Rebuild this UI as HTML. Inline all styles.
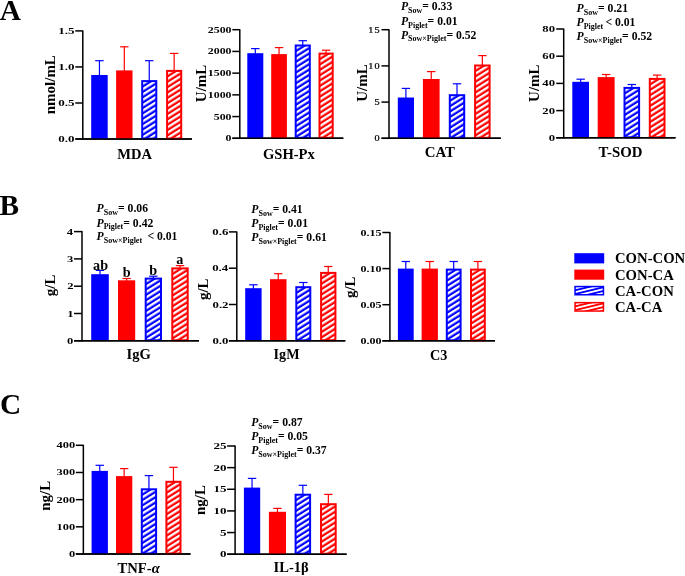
<!DOCTYPE html>
<html><head><meta charset="utf-8"><title>Figure</title>
<style>html,body{margin:0;padding:0;background:#fff;}body{width:685px;height:576px;overflow:hidden;font-family:"Liberation Serif",serif;}svg{display:block;will-change:transform;}</style>
</head><body>
<svg width="685" height="576" viewBox="0 0 685 576" font-family='"Liberation Serif", serif' fill="#000">
<defs>
<pattern id="hp1" patternUnits="userSpaceOnUse" x="4.459" y="0" width="4.55" height="10" patternTransform="rotate(58)"><rect width="4.55" height="10" fill="#0000ff"/><rect width="2.3" height="10" fill="#fff"/></pattern>
<pattern id="hp2" patternUnits="userSpaceOnUse" x="4.454" y="0" width="4.55" height="10" patternTransform="rotate(58)"><rect width="4.55" height="10" fill="#ff0000"/><rect width="2.3" height="10" fill="#fff"/></pattern>
<pattern id="hp3" patternUnits="userSpaceOnUse" x="1.011" y="0" width="4.55" height="10" patternTransform="rotate(58)"><rect width="4.55" height="10" fill="#0000ff"/><rect width="2.3" height="10" fill="#fff"/></pattern>
<pattern id="hp4" patternUnits="userSpaceOnUse" x="2.293" y="0" width="4.55" height="10" patternTransform="rotate(58)"><rect width="4.55" height="10" fill="#ff0000"/><rect width="2.3" height="10" fill="#fff"/></pattern>
<pattern id="hp5" patternUnits="userSpaceOnUse" x="1.970" y="0" width="4.55" height="10" patternTransform="rotate(58)"><rect width="4.55" height="10" fill="#0000ff"/><rect width="2.3" height="10" fill="#fff"/></pattern>
<pattern id="hp6" patternUnits="userSpaceOnUse" x="3.840" y="0" width="4.55" height="10" patternTransform="rotate(58)"><rect width="4.55" height="10" fill="#ff0000"/><rect width="2.3" height="10" fill="#fff"/></pattern>
<pattern id="hp7" patternUnits="userSpaceOnUse" x="1.906" y="0" width="4.55" height="10" patternTransform="rotate(58)"><rect width="4.55" height="10" fill="#0000ff"/><rect width="2.3" height="10" fill="#fff"/></pattern>
<pattern id="hp8" patternUnits="userSpaceOnUse" x="3.131" y="0" width="4.55" height="10" patternTransform="rotate(58)"><rect width="4.55" height="10" fill="#ff0000"/><rect width="2.3" height="10" fill="#fff"/></pattern>
<pattern id="hp9" patternUnits="userSpaceOnUse" x="0.903" y="0" width="4.55" height="10" patternTransform="rotate(58)"><rect width="4.55" height="10" fill="#0000ff"/><rect width="2.3" height="10" fill="#fff"/></pattern>
<pattern id="hp10" patternUnits="userSpaceOnUse" x="1.799" y="0" width="4.55" height="10" patternTransform="rotate(58)"><rect width="4.55" height="10" fill="#ff0000"/><rect width="2.3" height="10" fill="#fff"/></pattern>
<pattern id="hp11" patternUnits="userSpaceOnUse" x="1.552" y="0" width="4.55" height="10" patternTransform="rotate(58)"><rect width="4.55" height="10" fill="#0000ff"/><rect width="2.3" height="10" fill="#fff"/></pattern>
<pattern id="hp12" patternUnits="userSpaceOnUse" x="2.567" y="0" width="4.55" height="10" patternTransform="rotate(58)"><rect width="4.55" height="10" fill="#ff0000"/><rect width="2.3" height="10" fill="#fff"/></pattern>
<pattern id="hp13" patternUnits="userSpaceOnUse" x="2.680" y="0" width="4.55" height="10" patternTransform="rotate(58)"><rect width="4.55" height="10" fill="#0000ff"/><rect width="2.3" height="10" fill="#fff"/></pattern>
<pattern id="hp14" patternUnits="userSpaceOnUse" x="1.854" y="0" width="4.55" height="10" patternTransform="rotate(58)"><rect width="4.55" height="10" fill="#ff0000"/><rect width="2.3" height="10" fill="#fff"/></pattern>
<pattern id="hp15" patternUnits="userSpaceOnUse" x="0.070" y="0" width="4.55" height="10" patternTransform="rotate(58)"><rect width="4.55" height="10" fill="#0000ff"/><rect width="2.3" height="10" fill="#fff"/></pattern>
<pattern id="hp16" patternUnits="userSpaceOnUse" x="2.196" y="0" width="4.55" height="10" patternTransform="rotate(58)"><rect width="4.55" height="10" fill="#ff0000"/><rect width="2.3" height="10" fill="#fff"/></pattern>
<pattern id="hp17" patternUnits="userSpaceOnUse" x="4.251" y="0" width="4.55" height="10" patternTransform="rotate(58)"><rect width="4.55" height="10" fill="#0000ff"/><rect width="2.3" height="10" fill="#fff"/></pattern>
<pattern id="hp18" patternUnits="userSpaceOnUse" x="3.018" y="0" width="4.55" height="10" patternTransform="rotate(58)"><rect width="4.55" height="10" fill="#ff0000"/><rect width="2.3" height="10" fill="#fff"/></pattern>
<pattern id="lphb" patternUnits="userSpaceOnUse" x="0" y="1.330" width="10" height="3.65" patternTransform="rotate(-13.5)"><rect width="10" height="3.65" fill="#0000ff"/><rect width="10" height="1.8" fill="#fff"/></pattern>
<pattern id="lphr" patternUnits="userSpaceOnUse" x="0" y="2.385" width="10" height="3.65" patternTransform="rotate(-13.5)"><rect width="10" height="3.65" fill="#ff0000"/><rect width="10" height="1.8" fill="#fff"/></pattern>
</defs>
<line x1="82.8" y1="30.4" x2="82.8" y2="139.85" stroke="#000" stroke-width="1.5"/>
<line x1="75.3" y1="139.1" x2="191.9" y2="139.1" stroke="#000" stroke-width="1.5"/>
<line x1="75.3" y1="139.05" x2="82.8" y2="139.05" stroke="#000" stroke-width="1.5"/>
<text transform="translate(58.17,142.05) scale(1.536,1)" font-size="8.5" font-weight="bold">0.0</text>
<line x1="75.3" y1="103.0" x2="82.8" y2="103.0" stroke="#000" stroke-width="1.5"/>
<text transform="translate(58.15,106.00) scale(1.536,1)" font-size="8.5" font-weight="bold">0.5</text>
<line x1="75.3" y1="66.95" x2="82.8" y2="66.95" stroke="#000" stroke-width="1.5"/>
<text transform="translate(58.17,69.95) scale(1.536,1)" font-size="8.5" font-weight="bold">1.0</text>
<line x1="75.3" y1="30.9" x2="82.8" y2="30.9" stroke="#000" stroke-width="1.5"/>
<text transform="translate(58.15,33.90) scale(1.536,1)" font-size="8.5" font-weight="bold">1.5</text>
<line x1="99.45" y1="60.70" x2="99.45" y2="76.00" stroke="#0000ff" stroke-width="1.2"/>
<line x1="95.25" y1="60.70" x2="103.65" y2="60.70" stroke="#0000ff" stroke-width="1.2"/>
<rect x="91.20" y="75.00" width="16.50" height="64.10" fill="#0000ff"/>
<line x1="124.30" y1="46.80" x2="124.30" y2="71.40" stroke="#ff0000" stroke-width="1.2"/>
<line x1="120.10" y1="46.80" x2="128.50" y2="46.80" stroke="#ff0000" stroke-width="1.2"/>
<rect x="116.10" y="70.40" width="16.40" height="68.70" fill="#ff0000"/>
<line x1="149.25" y1="60.70" x2="149.25" y2="81.10" stroke="#0000ff" stroke-width="1.2"/>
<line x1="145.05" y1="60.70" x2="153.45" y2="60.70" stroke="#0000ff" stroke-width="1.2"/>
<rect x="142.20" y="81.10" width="14.10" height="57.50" fill="url(#hp1)" stroke="#0000ff" stroke-width="2.0"/>
<line x1="174.15" y1="53.40" x2="174.15" y2="70.90" stroke="#ff0000" stroke-width="1.2"/>
<line x1="169.95" y1="53.40" x2="178.35" y2="53.40" stroke="#ff0000" stroke-width="1.2"/>
<rect x="167.10" y="70.90" width="14.10" height="67.70" fill="url(#hp2)" stroke="#ff0000" stroke-width="2.0"/>
<line x1="82.8" y1="139.1" x2="191.9" y2="139.1" stroke="#000" stroke-width="1.5"/>
<text x="117.2" y="158.9" font-size="14.5" font-weight="bold" textLength="34.7" lengthAdjust="spacingAndGlyphs">MDA</text>
<text transform="translate(54.9,84.7) rotate(-90)" text-anchor="middle" font-size="15" font-weight="bold">nmol/mL</text>
<line x1="239.8" y1="29.2" x2="239.8" y2="139.05" stroke="#000" stroke-width="1.5"/>
<line x1="232.3" y1="138.3" x2="343.3" y2="138.3" stroke="#000" stroke-width="1.5"/>
<line x1="232.3" y1="138.3" x2="239.8" y2="138.3" stroke="#000" stroke-width="1.5"/>
<text transform="translate(225.61,141.30) scale(1.397,1)" font-size="8.5" font-weight="bold">0</text>
<line x1="232.3" y1="116.58" x2="239.8" y2="116.58" stroke="#000" stroke-width="1.5"/>
<text transform="translate(213.74,119.58) scale(1.397,1)" font-size="8.5" font-weight="bold">500</text>
<line x1="232.3" y1="94.86" x2="239.8" y2="94.86" stroke="#000" stroke-width="1.5"/>
<text transform="translate(207.80,97.86) scale(1.397,1)" font-size="8.5" font-weight="bold">1000</text>
<line x1="232.3" y1="73.14" x2="239.8" y2="73.14" stroke="#000" stroke-width="1.5"/>
<text transform="translate(207.80,76.14) scale(1.397,1)" font-size="8.5" font-weight="bold">1500</text>
<line x1="232.3" y1="51.42" x2="239.8" y2="51.42" stroke="#000" stroke-width="1.5"/>
<text transform="translate(207.80,54.42) scale(1.397,1)" font-size="8.5" font-weight="bold">2000</text>
<line x1="232.3" y1="29.7" x2="239.8" y2="29.7" stroke="#000" stroke-width="1.5"/>
<text transform="translate(207.80,32.70) scale(1.397,1)" font-size="8.5" font-weight="bold">2500</text>
<line x1="255.30" y1="48.60" x2="255.30" y2="54.20" stroke="#0000ff" stroke-width="1.2"/>
<line x1="251.10" y1="48.60" x2="259.50" y2="48.60" stroke="#0000ff" stroke-width="1.2"/>
<rect x="247.30" y="53.20" width="16.00" height="85.10" fill="#0000ff"/>
<line x1="279.05" y1="47.60" x2="279.05" y2="55.10" stroke="#ff0000" stroke-width="1.2"/>
<line x1="274.85" y1="47.60" x2="283.25" y2="47.60" stroke="#ff0000" stroke-width="1.2"/>
<rect x="271.20" y="54.10" width="15.70" height="84.20" fill="#ff0000"/>
<line x1="302.75" y1="40.70" x2="302.75" y2="45.50" stroke="#0000ff" stroke-width="1.2"/>
<line x1="298.55" y1="40.70" x2="306.95" y2="40.70" stroke="#0000ff" stroke-width="1.2"/>
<rect x="295.70" y="45.50" width="14.10" height="92.30" fill="url(#hp3)" stroke="#0000ff" stroke-width="2.0"/>
<line x1="326.10" y1="50.20" x2="326.10" y2="53.60" stroke="#ff0000" stroke-width="1.2"/>
<line x1="321.90" y1="50.20" x2="330.30" y2="50.20" stroke="#ff0000" stroke-width="1.2"/>
<rect x="319.50" y="53.60" width="13.20" height="84.20" fill="url(#hp4)" stroke="#ff0000" stroke-width="2.0"/>
<line x1="239.8" y1="138.3" x2="343.3" y2="138.3" stroke="#000" stroke-width="1.5"/>
<text x="263.0" y="159.1" font-size="14.5" font-weight="bold" textLength="51.8" lengthAdjust="spacingAndGlyphs">GSH-Px</text>
<text transform="translate(206.0,83.4) rotate(-90)" text-anchor="middle" font-size="15" font-weight="bold">U/mL</text>
<line x1="389.0" y1="29.2" x2="389.0" y2="139.05" stroke="#000" stroke-width="1.5"/>
<line x1="381.5" y1="138.3" x2="500.8" y2="138.3" stroke="#000" stroke-width="1.5"/>
<line x1="381.5" y1="138.3" x2="389.0" y2="138.3" stroke="#000" stroke-width="1.5"/>
<text transform="translate(374.39,141.30) scale(1.200,1)" font-size="8.5" font-weight="normal" letter-spacing="0.9" stroke="#000" stroke-width="0.25">0</text>
<line x1="381.5" y1="102.1" x2="389.0" y2="102.1" stroke="#000" stroke-width="1.5"/>
<text transform="translate(374.40,105.10) scale(1.200,1)" font-size="8.5" font-weight="normal" letter-spacing="0.9" stroke="#000" stroke-width="0.25">5</text>
<line x1="381.5" y1="65.9" x2="389.0" y2="65.9" stroke="#000" stroke-width="1.5"/>
<text transform="translate(368.21,68.90) scale(1.200,1)" font-size="8.5" font-weight="normal" letter-spacing="0.9" stroke="#000" stroke-width="0.25">10</text>
<line x1="381.5" y1="29.7" x2="389.0" y2="29.7" stroke="#000" stroke-width="1.5"/>
<text transform="translate(368.22,32.70) scale(1.200,1)" font-size="8.5" font-weight="normal" letter-spacing="0.9" stroke="#000" stroke-width="0.25">15</text>
<line x1="405.90" y1="88.40" x2="405.90" y2="98.50" stroke="#0000ff" stroke-width="1.2"/>
<line x1="401.70" y1="88.40" x2="410.10" y2="88.40" stroke="#0000ff" stroke-width="1.2"/>
<rect x="397.80" y="97.50" width="16.20" height="40.80" fill="#0000ff"/>
<line x1="431.25" y1="71.60" x2="431.25" y2="80.00" stroke="#ff0000" stroke-width="1.2"/>
<line x1="427.05" y1="71.60" x2="435.45" y2="71.60" stroke="#ff0000" stroke-width="1.2"/>
<rect x="422.90" y="79.00" width="16.70" height="59.30" fill="#ff0000"/>
<line x1="457.00" y1="83.80" x2="457.00" y2="95.20" stroke="#0000ff" stroke-width="1.2"/>
<line x1="452.80" y1="83.80" x2="461.20" y2="83.80" stroke="#0000ff" stroke-width="1.2"/>
<rect x="449.80" y="95.20" width="14.40" height="42.60" fill="url(#hp5)" stroke="#0000ff" stroke-width="2.0"/>
<line x1="482.35" y1="55.60" x2="482.35" y2="65.50" stroke="#ff0000" stroke-width="1.2"/>
<line x1="478.15" y1="55.60" x2="486.55" y2="55.60" stroke="#ff0000" stroke-width="1.2"/>
<rect x="475.10" y="65.50" width="14.50" height="72.30" fill="url(#hp6)" stroke="#ff0000" stroke-width="2.0"/>
<line x1="389.0" y1="138.3" x2="500.8" y2="138.3" stroke="#000" stroke-width="1.5"/>
<text x="424.8" y="157.4" font-size="14.5" font-weight="bold" textLength="30.2" lengthAdjust="spacingAndGlyphs">CAT</text>
<text transform="translate(366.5,83.1) rotate(-90)" text-anchor="middle" font-size="15" font-weight="bold">U/mL</text>
<text x="400.9" y="10.40" font-size="11.7" font-weight="bold"><tspan font-style="italic">P</tspan><tspan font-style="normal" font-size="8.0" dy="2.7">Sow</tspan><tspan font-style="normal" dy="-2.7" dx="0">= 0.33</tspan></text>
<text x="400.9" y="24.90" font-size="11.7" font-weight="bold"><tspan font-style="italic">P</tspan><tspan font-style="normal" font-size="8.0" dy="2.7">Piglet</tspan><tspan font-style="normal" dy="-2.7" dx="0">= 0.01</tspan></text>
<text x="400.9" y="38.60" font-size="11.7" font-weight="bold"><tspan font-style="italic">P</tspan><tspan font-style="normal" font-size="8.0" dy="2.7">Sow×Piglet</tspan><tspan font-style="normal" dy="-2.7" dx="0">= 0.52</tspan></text>
<line x1="563.7" y1="28.5" x2="563.7" y2="138.55" stroke="#000" stroke-width="1.5"/>
<line x1="556.2" y1="137.8" x2="675.5" y2="137.8" stroke="#000" stroke-width="1.5"/>
<line x1="556.2" y1="137.8" x2="563.7" y2="137.8" stroke="#000" stroke-width="1.5"/>
<text transform="translate(548.63,140.80) scale(1.495,1)" font-size="8.5" font-weight="bold">0</text>
<line x1="556.2" y1="110.6" x2="563.7" y2="110.6" stroke="#000" stroke-width="1.5"/>
<text transform="translate(542.28,113.60) scale(1.495,1)" font-size="8.5" font-weight="bold">20</text>
<line x1="556.2" y1="83.4" x2="563.7" y2="83.4" stroke="#000" stroke-width="1.5"/>
<text transform="translate(542.28,86.40) scale(1.495,1)" font-size="8.5" font-weight="bold">40</text>
<line x1="556.2" y1="56.2" x2="563.7" y2="56.2" stroke="#000" stroke-width="1.5"/>
<text transform="translate(542.28,59.20) scale(1.495,1)" font-size="8.5" font-weight="bold">60</text>
<line x1="556.2" y1="29.0" x2="563.7" y2="29.0" stroke="#000" stroke-width="1.5"/>
<text transform="translate(542.28,32.00) scale(1.495,1)" font-size="8.5" font-weight="bold">80</text>
<line x1="580.65" y1="79.20" x2="580.65" y2="82.80" stroke="#0000ff" stroke-width="1.2"/>
<line x1="576.45" y1="79.20" x2="584.85" y2="79.20" stroke="#0000ff" stroke-width="1.2"/>
<rect x="572.30" y="81.80" width="16.70" height="56.00" fill="#0000ff"/>
<line x1="606.15" y1="74.50" x2="606.15" y2="78.10" stroke="#ff0000" stroke-width="1.2"/>
<line x1="601.95" y1="74.50" x2="610.35" y2="74.50" stroke="#ff0000" stroke-width="1.2"/>
<rect x="597.70" y="77.10" width="16.90" height="60.70" fill="#ff0000"/>
<line x1="631.80" y1="84.50" x2="631.80" y2="87.90" stroke="#0000ff" stroke-width="1.2"/>
<line x1="627.60" y1="84.50" x2="636.00" y2="84.50" stroke="#0000ff" stroke-width="1.2"/>
<rect x="624.50" y="87.90" width="14.60" height="49.40" fill="url(#hp7)" stroke="#0000ff" stroke-width="2.0"/>
<line x1="657.15" y1="75.10" x2="657.15" y2="78.90" stroke="#ff0000" stroke-width="1.2"/>
<line x1="652.95" y1="75.10" x2="661.35" y2="75.10" stroke="#ff0000" stroke-width="1.2"/>
<rect x="649.80" y="78.90" width="14.70" height="58.40" fill="url(#hp8)" stroke="#ff0000" stroke-width="2.0"/>
<line x1="563.7" y1="137.8" x2="675.5" y2="137.8" stroke="#000" stroke-width="1.5"/>
<text x="598.6" y="157.2" font-size="14.5" font-weight="bold" textLength="43.9" lengthAdjust="spacingAndGlyphs">T-SOD</text>
<text transform="translate(539.0,83.2) rotate(-90)" text-anchor="middle" font-size="15" font-weight="bold">U/mL</text>
<text x="576.6" y="12.20" font-size="11.7" font-weight="bold"><tspan font-style="italic">P</tspan><tspan font-style="normal" font-size="8.0" dy="2.7">Sow</tspan><tspan font-style="normal" dy="-2.7" dx="0">= 0.21</tspan></text>
<text x="576.6" y="26.40" font-size="11.7" font-weight="bold"><tspan font-style="italic">P</tspan><tspan font-style="normal" font-size="8.0" dy="2.7">Piglet</tspan><tspan font-style="normal" dy="-2.7" dx="-0.8"> < 0.01</tspan></text>
<text x="576.6" y="40.20" font-size="11.7" font-weight="bold"><tspan font-style="italic">P</tspan><tspan font-style="normal" font-size="8.0" dy="2.7">Sow×Piglet</tspan><tspan font-style="normal" dy="-2.7" dx="0">= 0.52</tspan></text>
<line x1="82.0" y1="231.1" x2="82.0" y2="341.55" stroke="#000" stroke-width="1.5"/>
<line x1="74.0" y1="340.8" x2="199.0" y2="340.8" stroke="#000" stroke-width="1.5"/>
<line x1="74.0" y1="340.8" x2="82.0" y2="340.8" stroke="#000" stroke-width="1.5"/>
<text transform="translate(67.07,343.80) scale(1.484,1)" font-size="8.5" font-weight="bold">0</text>
<line x1="74.0" y1="313.5" x2="82.0" y2="313.5" stroke="#000" stroke-width="1.5"/>
<text transform="translate(67.25,316.50) scale(1.484,1)" font-size="8.5" font-weight="bold">1</text>
<line x1="74.0" y1="286.2" x2="82.0" y2="286.2" stroke="#000" stroke-width="1.5"/>
<text transform="translate(67.14,289.20) scale(1.484,1)" font-size="8.5" font-weight="bold">2</text>
<line x1="74.0" y1="258.9" x2="82.0" y2="258.9" stroke="#000" stroke-width="1.5"/>
<text transform="translate(67.02,261.90) scale(1.484,1)" font-size="8.5" font-weight="bold">3</text>
<line x1="74.0" y1="231.6" x2="82.0" y2="231.6" stroke="#000" stroke-width="1.5"/>
<text transform="translate(66.83,234.60) scale(1.484,1)" font-size="8.5" font-weight="bold">4</text>
<line x1="100.00" y1="270.40" x2="100.00" y2="275.20" stroke="#0000ff" stroke-width="1.2"/>
<line x1="95.80" y1="270.40" x2="104.20" y2="270.40" stroke="#0000ff" stroke-width="1.2"/>
<rect x="91.20" y="274.20" width="17.60" height="66.60" fill="#0000ff"/>
<line x1="126.60" y1="278.50" x2="126.60" y2="281.30" stroke="#ff0000" stroke-width="1.2"/>
<line x1="122.40" y1="278.50" x2="130.80" y2="278.50" stroke="#ff0000" stroke-width="1.2"/>
<rect x="118.00" y="280.30" width="17.20" height="60.50" fill="#ff0000"/>
<line x1="153.35" y1="276.20" x2="153.35" y2="278.60" stroke="#0000ff" stroke-width="1.2"/>
<line x1="149.15" y1="276.20" x2="157.55" y2="276.20" stroke="#0000ff" stroke-width="1.2"/>
<rect x="145.70" y="278.60" width="15.30" height="61.70" fill="url(#hp9)" stroke="#0000ff" stroke-width="2.0"/>
<line x1="180.00" y1="265.60" x2="180.00" y2="268.40" stroke="#ff0000" stroke-width="1.2"/>
<line x1="175.80" y1="265.60" x2="184.20" y2="265.60" stroke="#ff0000" stroke-width="1.2"/>
<rect x="172.30" y="268.40" width="15.40" height="71.90" fill="url(#hp10)" stroke="#ff0000" stroke-width="2.0"/>
<line x1="82.0" y1="340.8" x2="199.0" y2="340.8" stroke="#000" stroke-width="1.5"/>
<text x="126.6" y="358.6" font-size="14.5" font-weight="bold" textLength="24.3" lengthAdjust="spacingAndGlyphs">IgG</text>
<text transform="translate(55.3,285.3) rotate(-90)" text-anchor="middle" font-size="15" font-weight="bold">g/L</text>
<text x="96.6" y="212.20" font-size="11.7" font-weight="bold"><tspan font-style="italic">P</tspan><tspan font-style="normal" font-size="8.0" dy="2.7">Sow</tspan><tspan font-style="normal" dy="-2.7" dx="0">= 0.06</tspan></text>
<text x="96.6" y="226.60" font-size="11.7" font-weight="bold"><tspan font-style="italic">P</tspan><tspan font-style="normal" font-size="8.0" dy="2.7">Piglet</tspan><tspan font-style="normal" dy="-2.7" dx="0">= 0.42</tspan></text>
<text x="96.6" y="240.40" font-size="11.7" font-weight="bold"><tspan font-style="italic">P</tspan><tspan font-style="normal" font-size="8.0" dy="2.7">Sow×Piglet</tspan><tspan font-style="normal" dy="-2.7" dx="2.4"> < 0.01</tspan></text>
<text x="100.6" y="269.50" text-anchor="middle" font-size="14.2" font-weight="bold">ab</text>
<text x="126.6" y="276.70" text-anchor="middle" font-size="14.2" font-weight="bold">b</text>
<text x="153.2" y="274.50" text-anchor="middle" font-size="14.2" font-weight="bold">b</text>
<text x="179.7" y="264.30" text-anchor="middle" font-size="14.2" font-weight="bold">a</text>
<line x1="236.8" y1="231.4" x2="236.8" y2="341.55" stroke="#000" stroke-width="1.5"/>
<line x1="228.9" y1="340.8" x2="345.3" y2="340.8" stroke="#000" stroke-width="1.5"/>
<line x1="228.9" y1="340.8" x2="236.8" y2="340.8" stroke="#000" stroke-width="1.5"/>
<text transform="translate(212.46,343.80) scale(1.508,1)" font-size="8.5" font-weight="bold">0.0</text>
<line x1="228.9" y1="304.5" x2="236.8" y2="304.5" stroke="#000" stroke-width="1.5"/>
<text transform="translate(212.52,307.50) scale(1.508,1)" font-size="8.5" font-weight="bold">0.2</text>
<line x1="228.9" y1="268.2" x2="236.8" y2="268.2" stroke="#000" stroke-width="1.5"/>
<text transform="translate(212.21,271.20) scale(1.508,1)" font-size="8.5" font-weight="bold">0.4</text>
<line x1="228.9" y1="231.9" x2="236.8" y2="231.9" stroke="#000" stroke-width="1.5"/>
<text transform="translate(212.35,234.90) scale(1.508,1)" font-size="8.5" font-weight="bold">0.6</text>
<line x1="253.40" y1="284.80" x2="253.40" y2="289.20" stroke="#0000ff" stroke-width="1.2"/>
<line x1="249.20" y1="284.80" x2="257.60" y2="284.80" stroke="#0000ff" stroke-width="1.2"/>
<rect x="245.20" y="288.20" width="16.40" height="52.60" fill="#0000ff"/>
<line x1="278.25" y1="273.70" x2="278.25" y2="280.20" stroke="#ff0000" stroke-width="1.2"/>
<line x1="274.05" y1="273.70" x2="282.45" y2="273.70" stroke="#ff0000" stroke-width="1.2"/>
<rect x="270.00" y="279.20" width="16.50" height="61.60" fill="#ff0000"/>
<line x1="303.30" y1="282.50" x2="303.30" y2="287.20" stroke="#0000ff" stroke-width="1.2"/>
<line x1="299.10" y1="282.50" x2="307.50" y2="282.50" stroke="#0000ff" stroke-width="1.2"/>
<rect x="296.30" y="287.20" width="14.00" height="53.10" fill="url(#hp11)" stroke="#0000ff" stroke-width="2.0"/>
<line x1="328.25" y1="266.50" x2="328.25" y2="272.90" stroke="#ff0000" stroke-width="1.2"/>
<line x1="324.05" y1="266.50" x2="332.45" y2="266.50" stroke="#ff0000" stroke-width="1.2"/>
<rect x="321.10" y="272.90" width="14.30" height="67.40" fill="url(#hp12)" stroke="#ff0000" stroke-width="2.0"/>
<line x1="236.8" y1="340.8" x2="345.3" y2="340.8" stroke="#000" stroke-width="1.5"/>
<text x="273.6" y="358.8" font-size="14.5" font-weight="bold" textLength="26.0" lengthAdjust="spacingAndGlyphs">IgM</text>
<text transform="translate(208.2,289.2) rotate(-90)" text-anchor="middle" font-size="15" font-weight="bold">g/L</text>
<text x="251.3" y="212.80" font-size="11.7" font-weight="bold"><tspan font-style="italic">P</tspan><tspan font-style="normal" font-size="8.0" dy="2.7">Sow</tspan><tspan font-style="normal" dy="-2.7" dx="0">= 0.41</tspan></text>
<text x="251.3" y="227.30" font-size="11.7" font-weight="bold"><tspan font-style="italic">P</tspan><tspan font-style="normal" font-size="8.0" dy="2.7">Piglet</tspan><tspan font-style="normal" dy="-2.7" dx="0">= 0.01</tspan></text>
<text x="251.3" y="241.40" font-size="11.7" font-weight="bold"><tspan font-style="italic">P</tspan><tspan font-style="normal" font-size="8.0" dy="2.7">Sow×Piglet</tspan><tspan font-style="normal" dy="-2.7" dx="0">= 0.61</tspan></text>
<line x1="389.9" y1="232.0" x2="389.9" y2="341.55" stroke="#000" stroke-width="1.5"/>
<line x1="382.4" y1="340.8" x2="495.0" y2="340.8" stroke="#000" stroke-width="1.5"/>
<line x1="382.4" y1="340.8" x2="389.9" y2="340.8" stroke="#000" stroke-width="1.5"/>
<text transform="translate(360.46,343.80) scale(1.419,1)" font-size="8.5" font-weight="bold">0.00</text>
<line x1="382.4" y1="304.7" x2="389.9" y2="304.7" stroke="#000" stroke-width="1.5"/>
<text transform="translate(360.44,307.70) scale(1.419,1)" font-size="8.5" font-weight="bold">0.05</text>
<line x1="382.4" y1="268.6" x2="389.9" y2="268.6" stroke="#000" stroke-width="1.5"/>
<text transform="translate(360.46,271.60) scale(1.419,1)" font-size="8.5" font-weight="bold">0.10</text>
<line x1="382.4" y1="232.5" x2="389.9" y2="232.5" stroke="#000" stroke-width="1.5"/>
<text transform="translate(360.44,235.50) scale(1.419,1)" font-size="8.5" font-weight="bold">0.15</text>
<line x1="405.80" y1="261.50" x2="405.80" y2="269.60" stroke="#0000ff" stroke-width="1.2"/>
<line x1="401.60" y1="261.50" x2="410.00" y2="261.50" stroke="#0000ff" stroke-width="1.2"/>
<rect x="397.90" y="268.60" width="15.80" height="72.20" fill="#0000ff"/>
<line x1="429.75" y1="261.50" x2="429.75" y2="269.60" stroke="#ff0000" stroke-width="1.2"/>
<line x1="425.55" y1="261.50" x2="433.95" y2="261.50" stroke="#ff0000" stroke-width="1.2"/>
<rect x="421.60" y="268.60" width="16.30" height="72.20" fill="#ff0000"/>
<line x1="453.70" y1="261.50" x2="453.70" y2="269.60" stroke="#0000ff" stroke-width="1.2"/>
<line x1="449.50" y1="261.50" x2="457.90" y2="261.50" stroke="#0000ff" stroke-width="1.2"/>
<rect x="446.80" y="269.60" width="13.80" height="70.70" fill="url(#hp13)" stroke="#0000ff" stroke-width="2.0"/>
<line x1="477.90" y1="261.50" x2="477.90" y2="269.60" stroke="#ff0000" stroke-width="1.2"/>
<line x1="473.70" y1="261.50" x2="482.10" y2="261.50" stroke="#ff0000" stroke-width="1.2"/>
<rect x="471.00" y="269.60" width="13.80" height="70.70" fill="url(#hp14)" stroke="#ff0000" stroke-width="2.0"/>
<line x1="389.9" y1="340.8" x2="495.0" y2="340.8" stroke="#000" stroke-width="1.5"/>
<text x="429.9" y="359.5" font-size="14.5" font-weight="bold" textLength="17.4" lengthAdjust="spacingAndGlyphs">C3</text>
<text transform="translate(355.0,287.2) rotate(-90)" text-anchor="middle" font-size="15" font-weight="bold">g/L</text>
<line x1="83.35" y1="444.8" x2="83.35" y2="554.75" stroke="#000" stroke-width="1.5"/>
<line x1="75.85" y1="554.0" x2="190.5" y2="554.0" stroke="#000" stroke-width="1.5"/>
<line x1="75.85" y1="554.0" x2="83.35" y2="554.0" stroke="#000" stroke-width="1.5"/>
<text transform="translate(68.96,557.00) scale(1.462,1)" font-size="8.5" font-weight="bold">0</text>
<line x1="75.85" y1="526.83" x2="83.35" y2="526.83" stroke="#000" stroke-width="1.5"/>
<text transform="translate(56.53,529.83) scale(1.462,1)" font-size="8.5" font-weight="bold">100</text>
<line x1="75.85" y1="499.65" x2="83.35" y2="499.65" stroke="#000" stroke-width="1.5"/>
<text transform="translate(56.53,502.65) scale(1.462,1)" font-size="8.5" font-weight="bold">200</text>
<line x1="75.85" y1="472.48" x2="83.35" y2="472.48" stroke="#000" stroke-width="1.5"/>
<text transform="translate(56.53,475.48) scale(1.462,1)" font-size="8.5" font-weight="bold">300</text>
<line x1="75.85" y1="445.3" x2="83.35" y2="445.3" stroke="#000" stroke-width="1.5"/>
<text transform="translate(56.53,448.30) scale(1.462,1)" font-size="8.5" font-weight="bold">400</text>
<line x1="99.75" y1="465.30" x2="99.75" y2="471.90" stroke="#0000ff" stroke-width="1.2"/>
<line x1="95.55" y1="465.30" x2="103.95" y2="465.30" stroke="#0000ff" stroke-width="1.2"/>
<rect x="91.60" y="470.90" width="16.30" height="83.10" fill="#0000ff"/>
<line x1="124.15" y1="468.60" x2="124.15" y2="477.10" stroke="#ff0000" stroke-width="1.2"/>
<line x1="119.95" y1="468.60" x2="128.35" y2="468.60" stroke="#ff0000" stroke-width="1.2"/>
<rect x="116.00" y="476.10" width="16.30" height="77.90" fill="#ff0000"/>
<line x1="148.95" y1="475.60" x2="148.95" y2="489.30" stroke="#0000ff" stroke-width="1.2"/>
<line x1="144.75" y1="475.60" x2="153.15" y2="475.60" stroke="#0000ff" stroke-width="1.2"/>
<rect x="141.80" y="489.30" width="14.30" height="64.20" fill="url(#hp15)" stroke="#0000ff" stroke-width="2.0"/>
<line x1="173.45" y1="467.30" x2="173.45" y2="481.80" stroke="#ff0000" stroke-width="1.2"/>
<line x1="169.25" y1="467.30" x2="177.65" y2="467.30" stroke="#ff0000" stroke-width="1.2"/>
<rect x="166.40" y="481.80" width="14.10" height="71.70" fill="url(#hp16)" stroke="#ff0000" stroke-width="2.0"/>
<line x1="83.35" y1="554.0" x2="190.5" y2="554.0" stroke="#000" stroke-width="1.5"/>
<text x="117.5" y="573.0" font-size="14.5" font-weight="bold" textLength="42.3" lengthAdjust="spacingAndGlyphs">TNF-<tspan font-style="italic">α</tspan></text>
<text transform="translate(49.5,495.8) rotate(-90)" text-anchor="middle" font-size="15" font-weight="bold">ng/L</text>
<line x1="235.1" y1="445.5" x2="235.1" y2="554.95" stroke="#000" stroke-width="1.5"/>
<line x1="227.1" y1="554.2" x2="346.6" y2="554.2" stroke="#000" stroke-width="1.5"/>
<line x1="227.1" y1="554.2" x2="235.1" y2="554.2" stroke="#000" stroke-width="1.5"/>
<text transform="translate(219.98,557.20) scale(1.532,1)" font-size="8.5" font-weight="bold">0</text>
<line x1="227.1" y1="532.56" x2="235.1" y2="532.56" stroke="#000" stroke-width="1.5"/>
<text transform="translate(219.97,535.56) scale(1.532,1)" font-size="8.5" font-weight="bold">5</text>
<line x1="227.1" y1="510.92" x2="235.1" y2="510.92" stroke="#000" stroke-width="1.5"/>
<text transform="translate(213.47,513.92) scale(1.532,1)" font-size="8.5" font-weight="bold">10</text>
<line x1="227.1" y1="489.28" x2="235.1" y2="489.28" stroke="#000" stroke-width="1.5"/>
<text transform="translate(213.45,492.28) scale(1.532,1)" font-size="8.5" font-weight="bold">15</text>
<line x1="227.1" y1="467.64" x2="235.1" y2="467.64" stroke="#000" stroke-width="1.5"/>
<text transform="translate(213.47,470.64) scale(1.532,1)" font-size="8.5" font-weight="bold">20</text>
<line x1="227.1" y1="446.0" x2="235.1" y2="446.0" stroke="#000" stroke-width="1.5"/>
<text transform="translate(213.45,449.00) scale(1.532,1)" font-size="8.5" font-weight="bold">25</text>
<line x1="252.05" y1="478.40" x2="252.05" y2="488.60" stroke="#0000ff" stroke-width="1.2"/>
<line x1="247.85" y1="478.40" x2="256.25" y2="478.40" stroke="#0000ff" stroke-width="1.2"/>
<rect x="243.90" y="487.60" width="16.30" height="66.60" fill="#0000ff"/>
<line x1="277.45" y1="508.40" x2="277.45" y2="512.80" stroke="#ff0000" stroke-width="1.2"/>
<line x1="273.25" y1="508.40" x2="281.65" y2="508.40" stroke="#ff0000" stroke-width="1.2"/>
<rect x="268.90" y="511.80" width="17.10" height="42.40" fill="#ff0000"/>
<line x1="302.85" y1="485.30" x2="302.85" y2="494.70" stroke="#0000ff" stroke-width="1.2"/>
<line x1="298.65" y1="485.30" x2="307.05" y2="485.30" stroke="#0000ff" stroke-width="1.2"/>
<rect x="295.60" y="494.70" width="14.50" height="59.00" fill="url(#hp17)" stroke="#0000ff" stroke-width="2.0"/>
<line x1="328.35" y1="494.40" x2="328.35" y2="504.20" stroke="#ff0000" stroke-width="1.2"/>
<line x1="324.15" y1="494.40" x2="332.55" y2="494.40" stroke="#ff0000" stroke-width="1.2"/>
<rect x="321.00" y="504.20" width="14.70" height="49.50" fill="url(#hp18)" stroke="#ff0000" stroke-width="2.0"/>
<line x1="235.1" y1="554.2" x2="346.6" y2="554.2" stroke="#000" stroke-width="1.5"/>
<text x="273.5" y="572.4" font-size="14.5" font-weight="bold" textLength="35.2" lengthAdjust="spacingAndGlyphs">IL-1β</text>
<text transform="translate(205.3,500.0) rotate(-90)" text-anchor="middle" font-size="15" font-weight="bold">ng/L</text>
<text x="251.2" y="426.10" font-size="11.7" font-weight="bold"><tspan font-style="italic">P</tspan><tspan font-style="normal" font-size="8.0" dy="2.7">Sow</tspan><tspan font-style="normal" dy="-2.7" dx="0">= 0.87</tspan></text>
<text x="251.2" y="440.30" font-size="11.7" font-weight="bold"><tspan font-style="italic">P</tspan><tspan font-style="normal" font-size="8.0" dy="2.7">Piglet</tspan><tspan font-style="normal" dy="-2.7" dx="0">= 0.05</tspan></text>
<text x="251.2" y="454.30" font-size="11.7" font-weight="bold"><tspan font-style="italic">P</tspan><tspan font-style="normal" font-size="8.0" dy="2.7">Sow×Piglet</tspan><tspan font-style="normal" dy="-2.7" dx="0">= 0.37</tspan></text>
<text x="-0.2" y="19.9" font-size="29.3" font-weight="bold">A</text>
<text x="-0.5" y="214.9" font-size="29.3" font-weight="bold">B</text>
<text x="0.1" y="414.0" font-size="29.3" font-weight="bold">C</text>
<rect x="574.3" y="253.2" width="29.90" height="10.20" fill="#0000ff"/>
<text x="615.0" y="263.4" font-size="14.7" font-weight="bold">CON-CON</text>
<rect x="574.3" y="269.6" width="29.90" height="10.10" fill="#ff0000"/>
<text x="615.0" y="279.7" font-size="14.7" font-weight="bold">CON-CA</text>
<rect x="575.05" y="286.55" width="28.40" height="8.20" fill="url(#lphb)" stroke="#0000ff" stroke-width="1.5"/>
<text x="615.0" y="295.5" font-size="14.7" font-weight="bold">CA-CON</text>
<rect x="575.05" y="302.65" width="28.40" height="8.40" fill="url(#lphr)" stroke="#ff0000" stroke-width="1.5"/>
<text x="615.0" y="311.8" font-size="14.7" font-weight="bold">CA-CA</text>
</svg>
</body></html>
